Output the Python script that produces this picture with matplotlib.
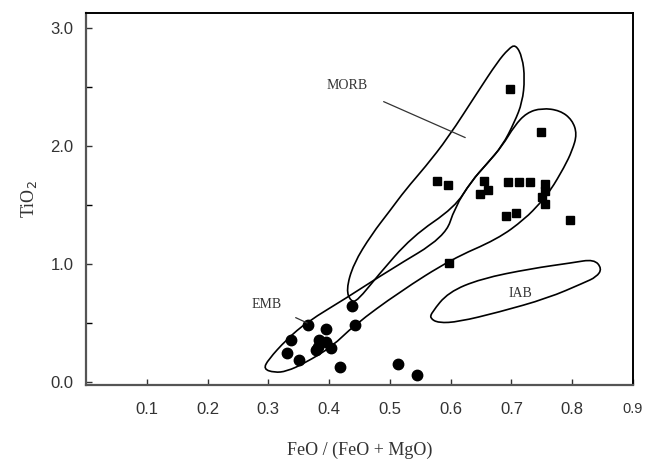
import matplotlib
matplotlib.use('Agg')
import matplotlib.pyplot as plt
from matplotlib.path import Path
from matplotlib.patches import PathPatch

# sample points
circle_x = [0.366, 0.395, 0.438, 0.442, 0.337, 0.330, 0.351, 0.383, 0.381,
            0.395, 0.403, 0.378, 0.418, 0.514, 0.544]
circle_y = [0.48, 0.45, 0.64, 0.48, 0.36, 0.25, 0.19, 0.36, 0.30,
            0.34, 0.29, 0.27, 0.13, 0.15, 0.06]

square_x = [0.698, 0.749, 0.578, 0.596, 0.655, 0.661, 0.648, 0.695, 0.713,
            0.731, 0.756, 0.756, 0.751, 0.756, 0.691, 0.707, 0.797, 0.597]
square_y = [2.48, 2.12, 1.70, 1.67, 1.70, 1.63, 1.59, 1.69, 1.69,
            1.69, 1.68, 1.62, 1.57, 1.51, 1.41, 1.43, 1.37, 1.01]

# field outlines (vertices)
morb_x = [0.707, 0.718, 0.722, 0.718, 0.705, 0.685, 0.660, 0.634, 0.607, 0.536,
          0.480, 0.447, 0.436, 0.428, 0.440, 0.470, 0.500, 0.526, 0.558, 0.596,
          0.645, 0.677, 0.695]
morb_y = [2.86, 2.75, 2.57, 2.37, 2.20, 2.00, 1.85, 1.70, 1.48, 1.23,
          0.90, 0.69, 0.68, 0.78, 1.00, 1.25, 1.45, 1.63, 1.82, 2.07,
          2.46, 2.71, 2.82]

emb_x = [0.300, 0.330, 0.364, 0.428, 0.500, 0.591, 0.607, 0.634, 0.660, 0.685,
         0.705, 0.725, 0.750, 0.780, 0.800, 0.808, 0.800, 0.787, 0.764, 0.748,
         0.722, 0.677, 0.601, 0.515, 0.441, 0.405, 0.360, 0.330, 0.310, 0.292]
emb_y = [0.19, 0.36, 0.51, 0.71, 0.95, 1.23, 1.48, 1.70, 1.85, 2.00,
         2.17, 2.28, 2.32, 2.30, 2.22, 2.10, 1.96, 1.82, 1.62, 1.52,
         1.38, 1.21, 1.04, 0.76, 0.48, 0.30, 0.16, 0.09, 0.08, 0.11]

iab_x = [0.569, 0.596, 0.650, 0.732, 0.800, 0.836, 0.849, 0.840, 0.819, 0.760,
         0.678, 0.613, 0.580, 0.566]
iab_y = [0.59, 0.76, 0.875, 0.96, 1.01, 1.04, 0.96, 0.89, 0.84, 0.71,
         0.59, 0.51, 0.50, 0.54]

x_ticks = [0.1, 0.2, 0.3, 0.4, 0.5, 0.6, 0.7, 0.8, 0.9]
x_labels = ['0.1', '0.2', '0.3', '0.4', '0.5', '0.6', '0.7', '0.8', '0.9']
y_ticks = [0.0, 1.0, 2.0, 3.0]
y_labels = ['0.0', '1.0', '2.0', '3.0']
y_minor = [0.5, 1.5, 2.5]


def smooth_outline(xs, ys):
    # closed quadratic-bezier curve through midpoints of the vertex list
    pts = list(zip(xs, ys))
    n = len(pts)
    mid = lambda a, b: ((a[0] + b[0]) / 2, (a[1] + b[1]) / 2)
    verts = [mid(pts[-1], pts[0])]
    codes = [Path.MOVETO]
    for i in range(n):
        verts += [pts[i], mid(pts[i], pts[(i + 1) % n])]
        codes += [Path.CURVE3, Path.CURVE3]
    return Path(verts, codes)


fig = plt.figure(figsize=(6.48, 4.61), dpi=100)
ax = fig.add_axes([0.1327, 0.1649, 0.9768 - 0.1327, 0.9718 - 0.1649])

for fx, fy in [(morb_x, morb_y), (emb_x, emb_y), (iab_x, iab_y)]:
    ax.add_patch(PathPatch(smooth_outline(fx, fy), facecolor='none',
                           edgecolor='black', lw=1.2, zorder=2))

ax.plot(circle_x, circle_y, 'o', color='black', markersize=7.5, zorder=3)
ax.plot(square_x, square_y, 's', color='black', markersize=6, zorder=3)

# field labels
ax.annotate('MORB', xy=(0.624, 2.07), xytext=(0.43, 2.51),
            fontsize=10, family='Liberation Serif', color='#333333',
            ha='center', va='center',
            arrowprops=dict(arrowstyle='-', color='#333333', lw=0.9,
                            shrinkA=12, shrinkB=0))
ax.annotate('EMB', xy=(0.364, 0.50), xytext=(0.297, 0.66),
            fontsize=10, family='Liberation Serif', color='#333333',
            ha='center', va='center',
            arrowprops=dict(arrowstyle='-', color='#333333', lw=0.9,
                            shrinkA=9, shrinkB=0))
ax.text(0.714, 0.75, 'IAB', fontsize=10, family='Liberation Serif',
        color='#333333', ha='center', va='center')

ax.set_xlim(0.0, 0.895)
ax.set_ylim(-0.025, 3.125)

ax.set_xticks(x_ticks)
ax.set_xticklabels(x_labels, family='Liberation Sans', fontsize=12, color='#333333')
ax.set_yticks(y_ticks)
ax.set_yticklabels(y_labels, family='Liberation Sans', fontsize=12, color='#333333')
ax.set_yticks(y_minor, minor=True)
ax.get_xticklabels()[-1].set_fontsize(10.5)
ax.tick_params(axis='x', direction='in', length=4, width=1, pad=12, colors='#333333')
ax.tick_params(axis='y', direction='in', length=4, width=1, pad=9, colors='#333333')
ax.tick_params(axis='y', which='minor', direction='in', length=4, width=1)

for side in ['left', 'bottom']:
    ax.spines[side].set_linewidth(1.6)
    ax.spines[side].set_color('#555555')
for side in ['top', 'right']:
    ax.spines[side].set_linewidth(1.4)
    ax.spines[side].set_color('black')

ax.set_xlabel('FeO / (FeO + MgO)', family='Liberation Serif', fontsize=13,
              color='#333333', labelpad=18)
ax.set_ylabel('TiO$_2$', family='Liberation Serif', fontsize=13,
              color='#333333', labelpad=8)

fig.savefig('out.png', dpi=100)
